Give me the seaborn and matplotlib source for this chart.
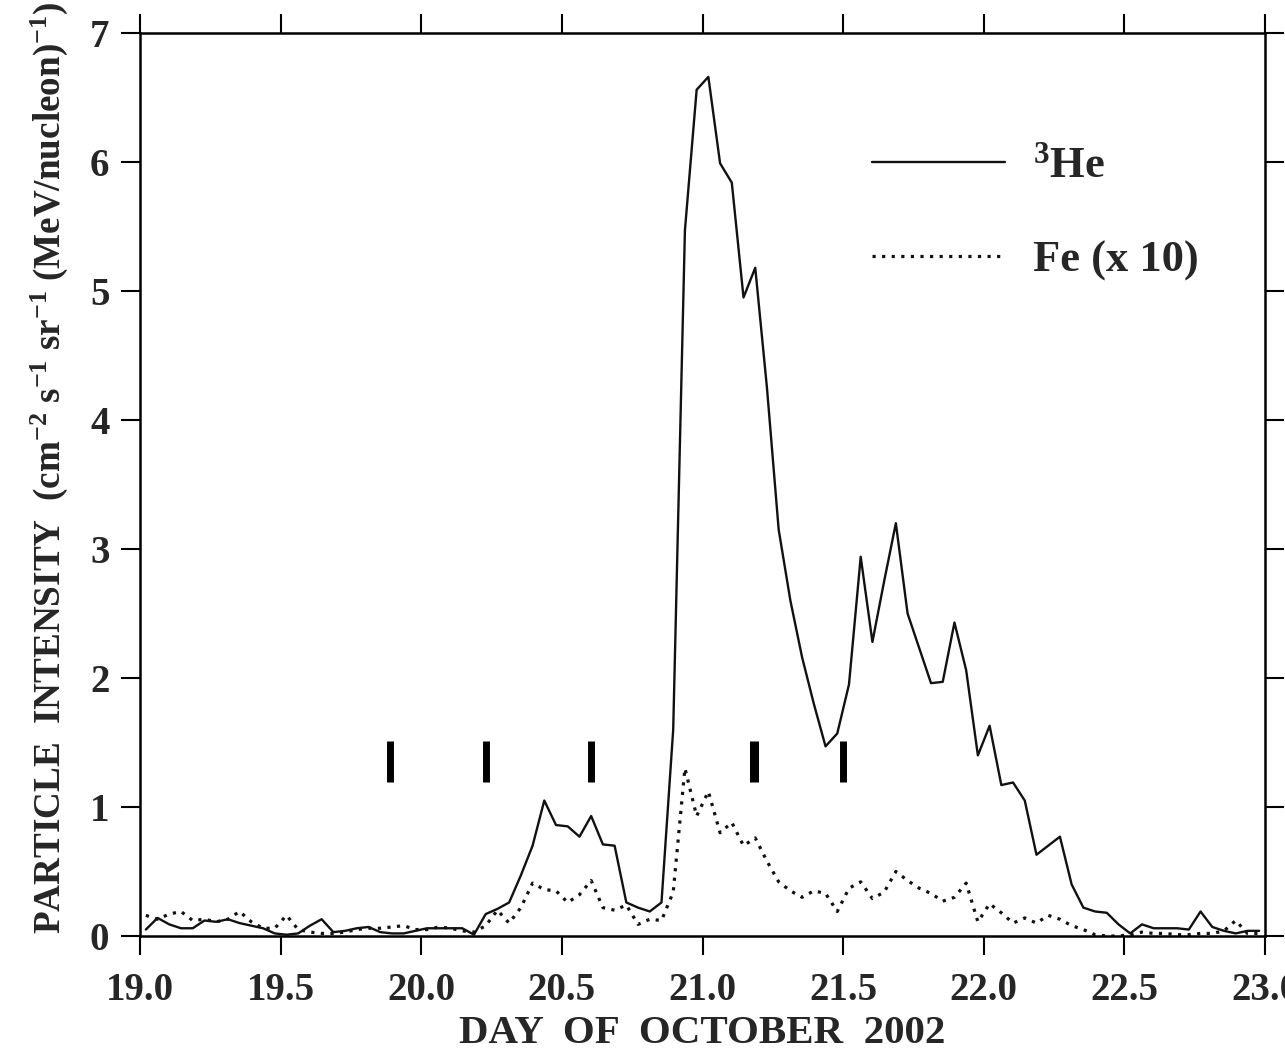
import numpy as np
import pandas as pd
import matplotlib
matplotlib.use("Agg")
import matplotlib.pyplot as plt
import seaborn as sns

# ---- data (hourly averages, day of October 2002) ----
hour_index = list(range(96))
he3 = [0.05, 0.14, 0.09, 0.06, 0.06, 0.12, 0.11, 0.13, 0.10, 0.08,
       0.06, 0.02, 0.01, 0.02, 0.08, 0.13, 0.03, 0.04, 0.06, 0.07,
       0.03, 0.02, 0.02, 0.04, 0.06, 0.06, 0.06, 0.06, 0.01, 0.17,
       0.21, 0.26, 0.47, 0.70, 1.05, 0.86, 0.85, 0.77, 0.93, 0.71,
       0.70, 0.26, 0.22, 0.19, 0.26, 1.60, 5.47, 6.56, 6.66, 5.99,
       5.84, 4.95, 5.18, 4.25, 3.15, 2.60, 2.16, 1.80, 1.47, 1.57,
       1.95, 2.94, 2.28, 2.75, 3.20, 2.50, 2.23, 1.96, 1.97, 2.43,
       2.06, 1.40, 1.63, 1.17, 1.19, 1.05, 0.63, 0.70, 0.77, 0.40,
       0.22, 0.19, 0.18, 0.09, 0.02, 0.09, 0.06, 0.06, 0.06, 0.05,
       0.19, 0.07, 0.04, 0.02, 0.04, 0.04]
fe_x10 = [0.16, 0.13, 0.17, 0.19, 0.12, 0.13, 0.11, 0.13, 0.19, 0.11,
          0.06, 0.06, 0.16, 0.05, 0.03, 0.02, 0.02, 0.03, 0.05, 0.06,
          0.06, 0.07, 0.08, 0.05, 0.05, 0.07, 0.06, 0.04, 0.03, 0.08,
          0.20, 0.10, 0.22, 0.41, 0.36, 0.35, 0.26, 0.32, 0.43, 0.22,
          0.20, 0.24, 0.09, 0.13, 0.12, 0.34, 1.30, 0.93, 1.12, 0.80,
          0.88, 0.70, 0.76, 0.58, 0.42, 0.35, 0.30, 0.35, 0.33, 0.19,
          0.37, 0.42, 0.29, 0.34, 0.50, 0.43, 0.37, 0.33, 0.27, 0.30,
          0.41, 0.11, 0.25, 0.18, 0.10, 0.14, 0.10, 0.16, 0.13, 0.08,
          0.05, 0.01, 0.00, 0.00, 0.01, 0.03, 0.02, 0.02, 0.01, 0.01,
          0.02, 0.02, 0.04, 0.12, 0.02, 0.02]
marker_days = [19.89, 20.23, 20.605, 21.183, 21.50]
marker_widths = [5.0, 5.0, 5.0, 6.5, 5.0]
marker_low, marker_high = 1.19, 1.51
x_ticks = [19.0, 19.5, 20.0, 20.5, 21.0, 21.5, 22.0, 22.5, 23.0]
y_ticks = [0, 1, 2, 3, 4, 5, 6, 7]

day = [19.0 + (h + 0.5) / 24.0 for h in hour_index]
df = pd.DataFrame({"day": day, "He3": he3, "Fe": fe_x10})

sns.set_theme(style="ticks")
plt.rcParams["font.family"] = ["Liberation Serif", "DejaVu Serif"]
plt.rcParams["font.weight"] = "bold"
plt.rcParams["mathtext.fontset"] = "custom"
plt.rcParams["mathtext.rm"] = "Liberation Serif:bold"
plt.rcParams["mathtext.it"] = "Liberation Serif:italic:bold"
plt.rcParams["mathtext.bf"] = "Liberation Serif:bold"

fig = plt.figure(figsize=(12.85, 10.55), dpi=100)
ax = fig.add_axes([140 / 1285, 1 - 936 / 1055, 1125 / 1285, 903 / 1055])

sns.lineplot(data=df, x="day", y="He3", ax=ax, color="#111111",
             linewidth=1.7, label="$^{3}$He")
sns.lineplot(data=df, x="day", y="Fe", ax=ax, color="#111111",
             linewidth=2.3, linestyle=(0, (1, 2)), label="Fe (x 10)")

for d, w in zip(marker_days, marker_widths):
    ax.vlines(d, marker_low, marker_high, color="black", linewidth=w)

ax.set_xlim(19.0, 23.0)
ax.set_ylim(0, 7)
ax.set_xticks(x_ticks)
ax.set_xticklabels([f"{v:.1f}" for v in x_ticks])
ax.set_yticks(y_ticks)
ax.set_yticklabels([str(v) for v in y_ticks])
ax.tick_params(axis="both", which="both", direction="out", length=14,
               width=1.5, color="black", labelsize=28, top=True, right=True)
ax.tick_params(axis="x", pad=12)
ax.tick_params(axis="y", pad=8)
for t in ax.get_xticklabels() + ax.get_yticklabels():
    t.set_fontweight("bold")
for s in ax.spines.values():
    s.set_visible(True)
    s.set_linewidth(1.8)
    s.set_color("black")

ax.set_xlabel("DAY  OF  OCTOBER  2002", fontsize=29.5, fontweight="bold",
              labelpad=4)
ax.set_ylabel("PARTICLE  INTENSITY  (cm$^{-2}$ s$^{-1}$ sr$^{-1}$ (MeV/nucleon)$^{-1}$)",
              fontsize=26.7, fontweight="bold")
ax.yaxis.set_label_coords(-0.0625, 0.518)

leg = ax.legend(loc="upper left", bbox_to_anchor=(0.631, 0.899),
                frameon=False, handlelength=3.0,
                handletextpad=0.63, labelspacing=1.22, borderpad=0,
                prop={"weight": "bold", "size": 32})

fig.savefig("out.png", dpi=100)
